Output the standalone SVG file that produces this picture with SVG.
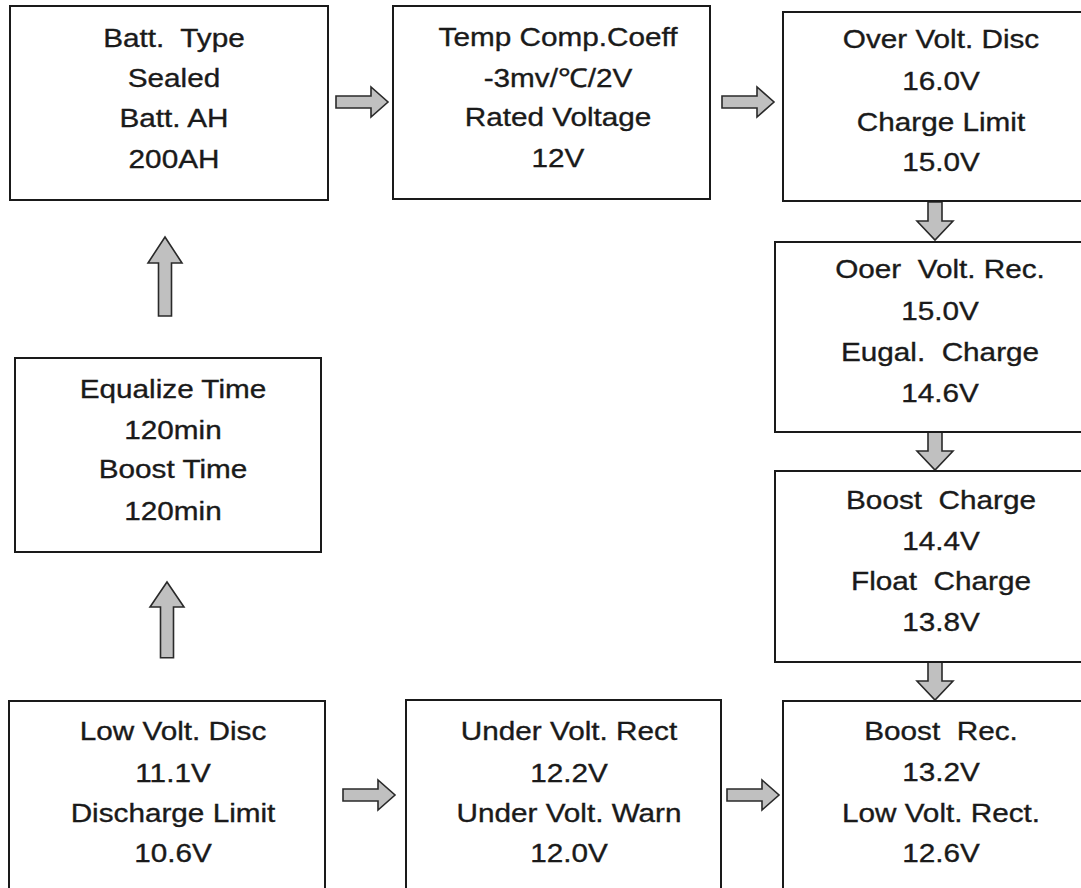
<svg xmlns="http://www.w3.org/2000/svg" width="1081" height="888" viewBox="0 0 1081 888">
<style>
.box{fill:#fff;stroke:#1a1a1a;stroke-width:2}
.t{font-family:"Liberation Sans",Arial,sans-serif;font-size:26px;fill:#1a1a1a;stroke:#1a1a1a;stroke-width:0.35;text-anchor:middle;white-space:pre}
.arr{fill:#c0c0c0;stroke:#2a2a2a;stroke-width:1.6;stroke-linejoin:miter}
</style>
<defs>
<path id="aR" d="M0,-6 H35 V-15 L52,0 L35,15 V6 H0 Z"/>
<path id="aU" d="M0,0 L17,26 H6.5 V79 H-6.5 V26 H-17 Z"/>
<path id="aD" d="M-7,0 H7 V19 H18 L0,38 L-18,19 H-7 Z"/>
</defs>
<rect width="1081" height="888" fill="#fff"/>
<g id="connectors">
<use href="#aR" class="arr" transform="translate(336,102)"/>
<use href="#aR" class="arr" transform="translate(722,102)"/>
<use href="#aR" class="arr" transform="translate(343,795)"/>
<use href="#aR" class="arr" transform="translate(727,795)"/>
<use href="#aU" class="arr" transform="translate(165,237)"/>
<use href="#aU" class="arr" transform="translate(167,582) scale(1,0.96)"/>
<use href="#aD" class="arr" transform="translate(935,202)"/>
<use href="#aD" class="arr" transform="translate(935,432)"/>
<use href="#aD" class="arr" transform="translate(935,662)"/>
</g>
<g id="n-batt">
<rect class="box" x="10" y="6" width="318" height="194"/>
<g transform="translate(174 0) scale(1.143 1)"><text class="t" x="0" y="47" xml:space="preserve">Batt.  Type</text><text class="t" x="0" y="87">Sealed</text><text class="t" x="0" y="127">Batt. AH</text><text class="t" x="0" y="168">200AH</text></g>
</g>
<g id="n-temp">
<rect class="box" x="393" y="6" width="317" height="193"/>
<g transform="translate(558 0) scale(1.143 1)"><text class="t" x="0" y="46">Temp Comp.Coeff</text><text class="t" x="0" y="87">-3mv/℃/2V</text><text class="t" x="0" y="126">Rated Voltage</text><text class="t" x="0" y="167">12V</text></g>
</g>
<g id="n-over">
<rect class="box" x="783" y="12" width="320" height="189"/>
<g transform="translate(941 0) scale(1.143 1)"><text class="t" x="0" y="48">Over Volt. Disc</text><text class="t" x="0" y="90">16.0V</text><text class="t" x="0" y="131">Charge Limit</text><text class="t" x="0" y="171">15.0V</text></g>
</g>
<g id="n-ooer">
<rect class="box" x="775" y="242" width="330" height="190"/>
<g transform="translate(940 0) scale(1.143 1)"><text class="t" x="0" y="278" xml:space="preserve">Ooer  Volt. Rec.</text><text class="t" x="0" y="320">15.0V</text><text class="t" x="0" y="361" xml:space="preserve">Eugal.  Charge</text><text class="t" x="0" y="402">14.6V</text></g>
</g>
<g id="n-boostc">
<rect class="box" x="775" y="471" width="330" height="191"/>
<g transform="translate(941 0) scale(1.143 1)"><text class="t" x="0" y="509" xml:space="preserve">Boost  Charge</text><text class="t" x="0" y="550">14.4V</text><text class="t" x="0" y="590" xml:space="preserve">Float  Charge</text><text class="t" x="0" y="631">13.8V</text></g>
</g>
<g id="n-boostr">
<rect class="box" x="783" y="701" width="320" height="200"/>
<g transform="translate(941 0) scale(1.143 1)"><text class="t" x="0" y="740" xml:space="preserve">Boost  Rec.</text><text class="t" x="0" y="781">13.2V</text><text class="t" x="0" y="822">Low Volt. Rect.</text><text class="t" x="0" y="862">12.6V</text></g>
</g>
<g id="n-under">
<rect class="box" x="406" y="700" width="315" height="200"/>
<g transform="translate(569 0) scale(1.143 1)"><text class="t" x="0" y="740">Under Volt. Rect</text><text class="t" x="0" y="782">12.2V</text><text class="t" x="0" y="822">Under Volt. Warn</text><text class="t" x="0" y="862">12.0V</text></g>
</g>
<g id="n-low">
<rect class="box" x="9" y="701" width="316" height="200"/>
<g transform="translate(173 0) scale(1.143 1)"><text class="t" x="0" y="740">Low Volt. Disc</text><text class="t" x="0" y="782">11.1V</text><text class="t" x="0" y="822">Discharge Limit</text><text class="t" x="0" y="862">10.6V</text></g>
</g>
<g id="n-eq">
<rect class="box" x="15" y="358" width="306" height="194"/>
<g transform="translate(173 0) scale(1.143 1)"><text class="t" x="0" y="398">Equalize Time</text><text class="t" x="0" y="439">120min</text><text class="t" x="0" y="478">Boost Time</text><text class="t" x="0" y="520">120min</text></g>
</g>
</svg>
